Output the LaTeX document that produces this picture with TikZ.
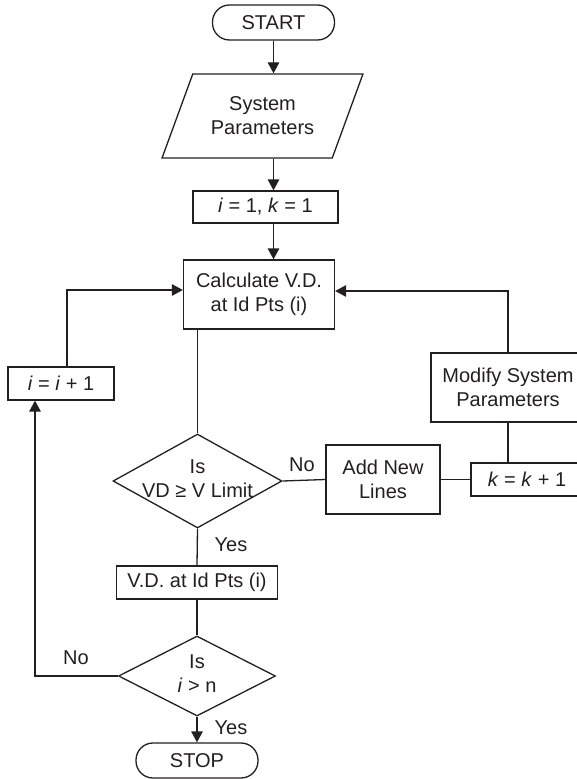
\documentclass[tikz,border=0pt]{standalone}
\usepackage{fontspec}
\setmainfont{Liberation Sans}
\usepackage{tikz}
\usetikzlibrary{shapes.geometric,arrows.meta}
\definecolor{tratto}{HTML}{231F20}
\newcommand{\dentro}[1]{\makebox[0pt]{\begin{tabular}{@{}c@{}}#1\end{tabular}}}

\begin{document}
\begin{tikzpicture}[x=1pt, y=-1pt, color=tratto, line width=1.3pt,
    font=\fontsize{20}{24}\selectfont,
    blocco/.style={draw, rectangle, inner sep=0pt, align=center},
    terminale/.style={draw, rectangle, rounded corners=17pt,
      minimum width=122pt, minimum height=35pt, inner sep=0pt},
    decisione/.style={draw, diamond, inner sep=0pt},
    freccia/.style={-{Triangle[length=11pt,width=11.5pt]}},
    etichetta/.style={inner sep=0pt}]
  \useasboundingbox (0,0) rectangle (577,779);
  \clip (0,0) rectangle (577,779);

  % Inizio e dati del sistema
  \node[terminale] (start) at (273.5,22.5) {START};
  \node[draw, trapezium, trapezium left angle=59.2, trapezium right angle=120.8,
        trapezium stretches=true, minimum width=201pt, minimum height=84pt,
        inner sep=0pt, align=center] (par) at (262.5,116) {System\\Parameters};
  \node[blocco, minimum width=145pt, minimum height=32pt] (init) at (265.5,207)
    {\textit{i} = 1, \textit{k} = 1};

  % Calcolo e ciclo su i
  \node[blocco, minimum width=151pt, minimum height=69pt] (calc) at (259,294.5)
    {Calculate V.D.\\at Id Pts (i)};
  \node[blocco, minimum width=106pt, minimum height=33pt] (inc) at (61,383.5)
    {\textit{i} = \textit{i} + 1};
  \node[decisione, minimum width=169pt, minimum height=94pt] (dec1) at (197.5,481)
    {\dentro{Is\\VD ≥ V Limit}};

  % Ramo di correzione (a destra)
  \node[blocco, minimum width=114pt, minimum height=69pt] (addl) at (383,479.5)
    {Add New\\Lines};
  \node[blocco, minimum width=112pt, minimum height=33pt] (kinc) at (527,479.5)
    {\textit{k} = \textit{k} + 1};
  \node[blocco, minimum width=154pt, minimum height=69pt] (mod) at (508,387.5)
    {Modify System\\Parameters};

  % Uscita
  \node[blocco, minimum width=161pt, minimum height=33pt] (vd) at (197,582.5)
    {V.D. at Id Pts (i)};
  \node[decisione, minimum width=157pt, minimum height=80pt] (dec2) at (197,676)
    {\dentro{Is\\\textit{i} > n}};
  \node[terminale] (stop) at (197,760.5) {STOP};

  % Collegamenti
  \draw[freccia] (start.south) -- (start.south |- par.north);
  \draw[freccia] (par.south -| start.south) -- (init.north -| start.south);
  \draw[freccia] (init.south -| start.south) -- (calc.north -| start.south);
  \draw (calc.south -| dec1.north) -- (dec1.north);
  \draw (dec1.south) -- (vd.north);
  \draw (vd.south) -- (dec2.north);
  \draw[freccia] (dec2.south) -- (stop.north);
  \draw[freccia] (dec2.west) -| ([xshift=-26pt]inc.south);
  \draw[freccia] ([xshift=6pt]inc.north) |- ([yshift=4.5pt]calc.west);
  \draw (dec1.east) -- (addl.west);
  \draw (addl.east) -- (kinc.west);
  \draw (kinc.north -| mod.south) -- (mod.south);
  \draw[freccia] (mod.north) |- ([yshift=3.5pt]calc.east);

  % Etichette
  \node[etichetta] (si1) at (231,545) {Yes};
  \node[etichetta] (si2) at (231,728) {Yes};
  \node[etichetta] (no1) at (302,465) {No};
  \node[etichetta] (no2) at (76,658) {No};
\end{tikzpicture}
\end{document}
